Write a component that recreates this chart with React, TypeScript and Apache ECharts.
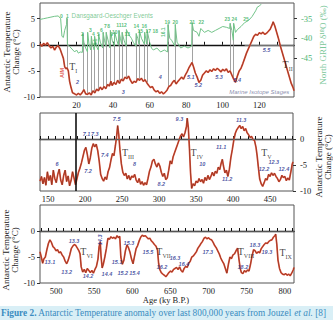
import React, { useEffect, useRef } from 'react';
import * as echarts from 'echarts';

const SERIF = "'Liberation Serif', 'Times New Roman', serif";
const SANS = "'Liberation Sans', Arial, sans-serif";

// ---- Panel 1: 0–139 ky, Antarctic temperature (°C) ----
const tempRecent: [number, number][] = [
  [0, 0.2], [1, -0.3], [2, 0.3], [3, -0.1], [4, 0.4], [5, -0.2], [6, -0.6], [7, -0.3], [8, -1.0], [9, -0.4],
  [10, -0.2], [11, -0.8], [12, -1.8], [12.8, -2.6], [13.5, -4.2], [14.2, -4.6], [14.8, -4.4], [15.5, -5.0],
  [16.2, -7.0], [17, -8.2], [17.8, -9.2], [19, -9.4], [20, -9.6], [21, -9.3], [22, -9.6], [23, -9.2], [24, -8.6],
  [25, -9.4], [26, -9.5], [27, -9.2], [28, -9.6], [29, -8.8], [30, -9.2], [31, -8.5], [32, -8.8], [33, -8.1],
  [34, -8.6], [35, -8.0], [36, -8.4], [37, -7.6], [38, -7.9], [38.8, -7.0], [39.5, -7.8], [40.5, -7.2],
  [41.5, -7.6], [42.5, -6.8], [43.5, -7.4], [44.5, -6.6], [45.5, -6.9], [46.5, -6.2], [47.5, -6.5], [48.5, -6.0],
  [49.5, -6.8], [50.5, -7.4], [51.5, -7.0], [52.5, -7.2], [53.5, -6.5], [54.5, -6.8], [55.5, -6.4], [56.5, -7.0],
  [57.5, -6.7], [58.5, -7.3], [59.5, -7.8], [60.5, -8.2], [61.5, -8.0], [62.5, -8.7], [63.5, -9.0], [64.5, -8.8],
  [65.5, -9.3], [66.5, -9.0], [67.5, -9.4], [68.5, -9.1], [69.5, -8.7], [70.5, -8.0], [71.5, -7.8], [72.5, -7.2],
  [73.5, -6.8], [74.5, -7.5], [75.5, -7.0], [76.5, -6.6], [77.5, -6.2], [78.5, -6.6], [79.5, -5.8], [80.5, -5.2],
  [81.5, -4.4], [82.5, -3.8], [83.2, -3.4], [84, -4.2], [85, -5.4], [86, -6.2], [87, -7.2], [88, -6.8], [89, -5.8],
  [90, -5.4], [91, -5.0], [92, -5.3], [93, -4.8], [94, -5.1], [95, -4.6], [96, -4.9], [97, -4.5], [98, -4.8],
  [99, -5.2], [100, -4.7], [101, -5.0], [102, -4.6], [103, -5.3], [104, -5.0], [105, -5.8], [106, -6.6],
  [107, -7.2], [108, -6.0], [109, -5.0], [110, -4.5], [111, -3.6], [112, -2.6], [113, -1.6], [114, -0.8],
  [115, 0.0], [116, 0.8], [117, 1.6], [118, 2.0], [119, 1.8], [120, 2.3], [121, 2.1], [122, 2.4], [123, 2.0],
  [124, 2.2], [125, 2.6], [126, 3.0], [127, 3.8], [127.6, 4.4], [128.5, 3.6], [129.5, 2.4], [130.5, 1.2],
  [131.5, -0.2], [132.5, -1.4], [133.5, -2.6], [134.5, -3.8], [135.5, -5.0], [136.5, -6.2], [137.5, -7.4],
  [138.5, -8.2], [139, -8.8],
];

// North GRIP δ18O (‰)
const ngrip: [number, number][] = [
  [0, -35.2], [2, -35], [4, -34.8], [6, -34.6], [8, -34.4], [10, -34.3], [11.3, -35], [12, -39.5], [12.8, -39.8],
  [13.5, -38], [14.5, -36.5], [14.7, -34.8], [15, -41.5], [16, -42], [17, -42.5], [18, -43], [19, -43.5], [20, -43],
  [21, -43.8], [22, -43.5], [23.2, -43.6], [23.4, -38.8], [24, -41], [25, -42.5], [26, -43.5], [26.1, -38.5],
  [26.8, -41.5], [27.8, -43], [28.1, -39.5], [28.8, -41.8], [29.7, -43], [29.9, -39.5], [30.8, -42], [31.9, -43],
  [32.1, -39], [33, -41], [34.3, -42.5], [34.5, -38.5], [35.3, -40.5], [36, -42], [36.2, -38.5], [37.5, -41],
  [38.3, -42.5], [38.5, -38], [39.5, -40.5], [40.7, -42], [40.9, -38.5], [42, -40.5], [42.9, -41.8], [43.1, -38],
  [44, -40], [44.7, -41.5], [44.9, -38.5], [46, -40.5], [47.1, -42], [47.3, -37.8], [48.5, -39], [50, -40],
  [51, -41], [52.4, -42], [52.6, -38.8], [53.5, -40], [54.2, -41.5], [54.4, -38], [55.5, -40], [57.1, -41.5],
  [57.3, -38.5], [58, -40.5], [58.4, -41.5], [58.6, -38], [60, -41], [61, -42.5], [62, -43], [64, -42.5],
  [66, -43.5], [68, -43], [69.8, -43.5], [70, -36.5], [71, -40], [72, -40.5], [73.8, -42], [74, -36.5], [75, -41],
  [77, -42.5], [79, -42], [81, -42.5], [83, -42], [83.2, -36], [84, -38], [86, -38.5], [87, -39.5], [88, -37.5],
  [90, -38.5], [92, -38], [94, -38.5], [96, -38], [98, -37.5], [100, -37], [102, -37.2], [103.8, -37.5],
  [104, -36.2], [105, -38], [105.8, -40.5], [106, -36.2], [107, -38.5], [108, -37.8], [110, -37], [112, -36],
  [114, -35.5], [116, -34.5], [118, -33], [119, -32], [120, -31.8], [121, -31.3],
];

// Dansgaard-Oeschger warming links: age, top (°C scale), bottom (°C)
const doAges = [14.7, 23.4, 26.1, 28.1, 29.9, 32.1, 34.5, 36.2, 38.5, 40.9, 43.1, 44.9, 47.3, 52.6, 54.4, 57.3, 58.6, 70, 74, 83.2, 104, 106];
const doTops = [5.0, 2.15, 2.4, 1.6, 1.6, 2.0, 2.4, 2.4, 2.75, 2.4, 2.75, 2.4, 2.9, 2.15, 2.75, 2.4, 2.75, 3.9, 3.9, 4.25, 4.1, 4.1];
const doBottoms = [-4.6, -8.9, -9.4, -9.4, -9.0, -8.6, -8.3, -8.2, -7.7, -7.3, -7.0, -6.7, -6.4, -7.1, -6.8, -6.9, -7.2, -8.2, -7.0, -3.4, -5.0, -6.6];

// ---- Panel 2: 139–481 ky ----
const tempMiddle: [number, number][] = [
  [139, -8.1], [141, -7.2], [143, -8.6], [145, -7.4], [147, -8.9], [149, -6.3], [151, -8.0], [153, -7.0],
  [155, -8.8], [157, -6.0], [159, -7.6], [161, -8.4], [163, -6.8], [165, -5.8], [167, -7.9], [169, -8.8],
  [171, -7.0], [173, -6.0], [175, -8.2], [177, -7.1], [179, -9.0], [181, -8.0], [183, -6.3], [185, -7.5],
  [187, -8.8], [189, -7.6], [191, -6.4], [193, -5.6], [195, -4.6], [197, -3.4], [199, -2.2], [201, -1.6],
  [203, -3.0], [205, -4.8], [207, -3.6], [209, -1.8], [211, -0.9], [213, -1.5], [215, -1.0], [217, -2.2],
  [219, -4.2], [221, -6.8], [223, -7.6], [225, -8.1], [227, -7.3], [229, -7.8], [231, -6.3], [233, -5.5],
  [235, -4.0], [237, -2.8], [239, -3.2], [241, -1.2], [242.5, 0.4], [244, 2.6], [245.5, 0.8], [247, -2.0],
  [249, -4.8], [251, -6.4], [253, -7.0], [255, -6.6], [257, -7.7], [259, -7.0], [261, -7.9], [263, -7.1],
  [265, -7.4], [267, -6.8], [269, -7.9], [271, -8.4], [273, -7.6], [275, -8.7], [277, -8.2], [279, -8.9],
  [281, -8.4], [283, -8.8], [285, -7.6], [287, -6.2], [289, -5.4], [291, -4.2], [293, -3.9], [295, -4.8],
  [297, -5.4], [299, -4.6], [301, -5.2], [303, -6.4], [305, -7.2], [307, -6.6], [309, -7.8], [311, -7.5],
  [313, -6.0], [315, -4.2], [317, -4.8], [319, -3.4], [321, -2.6], [323, -1.8], [325, -1.0], [327, -0.2],
  [329, 0.6], [331, 1.0], [333, 0.4], [335, 1.2], [337, 2.4], [338, 4.0], [339.5, 2.2], [341, -1.8],
  [342.5, -6.5], [344, -9.5], [346, -8.6], [348, -9.0], [350, -8.1], [352, -8.4], [354, -7.6], [356, -8.2],
  [358, -7.8], [360, -8.5], [362, -7.4], [364, -8.0], [366, -7.0], [368, -7.8], [370, -7.2], [372, -6.4],
  [374, -7.1], [376, -6.2], [378, -6.6], [380, -5.4], [382, -5.9], [384, -4.6], [385.5, -3.9], [387, -5.2],
  [389, -6.5], [391, -6.0], [393, -7.2], [395, -5.8], [397, -3.6], [399, -2.0], [401, -0.2], [403, 1.1],
  [405, 1.8], [407, 2.2], [409, 2.6], [411, 2.0], [413, 2.4], [415, 1.6], [417, 2.0], [419, 1.2], [421, 0.8],
  [423, 0.3], [425, 0.5], [427, -0.1], [429, -0.3], [431, -1.6], [432.5, -3.2], [434, -5.2], [436, -7.7],
  [438, -8.6], [440, -9.1], [442, -8.4], [444, -7.6], [446, -7.9], [448, -6.8], [450, -7.2], [452, -6.5],
  [454, -7.0], [456, -6.6], [458, -7.2], [460, -7.6], [462, -8.2], [464, -7.8], [466, -7.0], [468, -7.4],
  [470, -7.2], [472, -8.0], [474, -7.5], [476, -7.9], [478, -6.4], [480, -4.8], [481, -4.4],
];

// ---- Panel 3: 479–812 ky ----
const tempOld: [number, number][] = [
  [479, -4.0], [481, -5.2], [482.5, -6.2], [484, -5.4], [486, -5.0], [488, -3.6], [490, -2.4], [492, -1.7],
  [494, -2.2], [496, -3.0], [498, -3.3], [500, -3.8], [502, -3.6], [504, -4.2], [506, -4.0], [508, -4.6],
  [510, -5.0], [512, -5.8], [514, -6.3], [516, -5.6], [518, -4.6], [520, -3.4], [522, -2.9], [524, -2.6],
  [526, -2.8], [528, -3.3], [530, -3.8], [531.5, -4.4], [533, -6.9], [535, -7.9], [537, -7.4], [539, -8.0],
  [541, -7.2], [543, -7.6], [545, -8.0], [547, -7.6], [549, -8.1], [551, -7.4], [553, -6.8], [555, -5.4],
  [556.5, -3.0], [558, -2.1], [559, -4.8], [560.5, -7.1], [562, -6.4], [564, -5.0], [566, -3.4], [568, -1.4],
  [570, -1.6], [572, -1.1], [574, -1.4], [576, -1.2], [578, -1.5], [580, -0.9], [582, -1.3], [583.5, -1.0],
  [585, -5.0], [587, -6.4], [589, -5.6], [591, -3.8], [593, -2.7], [595, -3.2], [597, -4.1], [599, -5.4],
  [601, -6.3], [603, -4.8], [605, -3.4], [607, -2.8], [609, -1.9], [611, -1.2], [613, -0.8], [615, -1.0],
  [617, -0.9], [619, -1.2], [621, -1.5], [623, -1.4], [625, -1.9], [627, -2.2], [629, -2.6], [631, -2.9],
  [633, -3.6], [634.5, -6.2], [636, -7.4], [638, -8.0], [640, -8.3], [642, -8.5], [644, -8.8], [646, -8.4],
  [648, -8.0], [650, -7.7], [652, -7.9], [654, -7.4], [656, -7.2], [658, -7.0], [660, -7.4], [662, -6.9],
  [664, -7.6], [666, -7.9], [668, -7.2], [670, -6.8], [672, -7.0], [674, -6.2], [676, -5.8], [678, -5.0],
  [680, -4.8], [682, -4.4], [684, -4.0], [686, -3.3], [688, -2.9], [690, -2.4], [692, -2.0], [694, -1.4],
  [696, -1.2], [698, -1.5], [700, -1.3], [702, -1.6], [704, -1.7], [706, -2.2], [708, -2.8], [710, -3.2],
  [712, -3.8], [714, -4.4], [716, -5.2], [718, -5.8], [720, -6.3], [722, -7.2], [724, -8.1], [726, -6.4],
  [728, -5.0], [730, -5.3], [732, -4.6], [734, -4.4], [736, -3.8], [738, -3.3], [740, -5.6], [741.5, -7.2],
  [743, -8.0], [745, -8.2], [747, -7.6], [749, -7.9], [751, -7.5], [753, -7.7], [755, -6.4], [757, -4.8],
  [759, -3.6], [761, -3.8], [763, -4.3], [765, -4.0], [767, -4.2], [769, -3.4], [771, -3.0], [773, -2.6],
  [775, -2.3], [777, -2.4], [779, -2.0], [781, -1.8], [783, -1.7], [785, -1.2], [787, -0.9], [788, -0.6],
  [789.5, -2.6], [791, -5.6], [793, -7.2], [795, -8.0], [797, -8.3], [799, -8.4], [801, -8.2], [803, -8.5],
  [805, -8.3], [807, -8.6], [809, -8.1], [811, -7.5], [812, -7.0],
];

// tick labels
const xLabels1 = [20, 40, 60, 80, 100, 120];
const xLabels2 = [150, 200, 250, 300, 350, 400, 450];
const xLabels3 = [500, 550, 600, 650, 700, 750, 800];
const tempLabels1 = [-10, -5, 0, 5];
const tempLabels23 = [-10, -5, 0];
const d18oLabels = [-45, -40, -35];

// annotations: [text, age, °C]
const doNumbers: [string, number, number][] = [
  ['0', 11.7, 5.5], ['1', 15.0, 5.5], ['2', 23.2, 2.1], ['3', 27.6, 2.8], ['4', 29.2, 2.1], ['5', 32.0, 2.1],
  ['6', 33.6, 2.8], ['7', 35.8, 3.6], ['8', 37.6, 3.6], ['9', 39.2, 2.0], ['10', 40.9, 2.5], ['11', 43.2, 3.8],
  ['12', 46.0, 3.8], ['13', 47.8, 2.0], ['14', 52.7, 3.6], ['15', 54.9, 2.6], ['16', 57.1, 3.6], ['17', 59.3, 2.6],
  ['18', 63.1, 2.6], ['19', 69.7, 4.4], ['20', 74.0, 4.4], ['21', 83.3, 4.4], ['22', 88.3, 4.4],
  ['23', 102.5, 4.9], ['24', 106.3, 4.9], ['25', 112.8, 4.9],
];
const doRotated: [string, number, number][] = [['4.1', 30.3, 0.5], ['16.1', 67.5, 2.4]];
const misRecent: [string, number, number][] = [
  ['2', 20.5, -7.1], ['3', 45.6, -9.0], ['4', 65.8, -6.2], ['5.1', 82.5, -6.2], ['5.2', 86.6, -7.7],
  ['5.3', 98.0, -6.2], ['5.4', 108.0, -6.8], ['5.5', 124.0, -1.0],
];
const misMiddle: [string, number, number][] = [
  ['6', 162, -4.8], ['7.1', 202, 0.9], ['7.3', 213, 0.9], ['7.2', 204, -6.1], ['7.4', 226.5, -3.0],
  ['7.5', 242.6, 3.8], ['8', 266.9, -4.8], ['8.2', 303, -8.6], ['9.3', 327.4, 3.8], ['10', 358.4, -4.8],
  ['11.1', 384, -1.6], ['11.2', 392, -7.7], ['11.3', 410.9, 3.6], ['12.2', 441.8, -5.7], ['12.3', 455, -4.5],
  ['12.4', 468.7, -5.7],
];
const misOld: [string, number, number][] = [
  ['13.1', 492, -5.9], ['13.2', 514, -7.9], ['13.3', 523.6, -1.9], ['14.2', 542, -8.7], ['14.4', 566.8, -8.3],
  ['15.1', 580, -5.9], ['15.2', 587.5, -8.1], ['15.4', 603, -8.1], ['15.3', 595.6, -2.3], ['15.5', 620.5, -4.0],
  ['16.2', 638.9, -6.9], ['16.3', 656, -5.2], ['16.4', 667.7, -6.3], ['17.3', 699, -4.0], ['18.2', 745, -6.9],
  ['18.3', 760.8, -2.7], ['19.3', 776.5, -4.1],
];
const misOldRotated: [string, number, number][] = [['14.3', 557.6, -1.7]];
const terminations1: [string, number, number][] = [['I', 18.2, -4.4], ['II', 135.5, -4.0]];
const terminations2: [string, number, number][] = [['III', 258, -2.8], ['IV', 351, -2.8], ['V', 445, -2.8]];
const terminations3: [string, number, number][] = [['VI', 540, -4.2], ['VII', 641, -4.2], ['VIII', 749, -4.2], ['IX', 801, -4.4]];

const RED = '#e0533a';
const DARK = '#5e2216';
const GREEN = '#72c489';
const BLUE = '#232d8e';

const tickList = (from: number, to: number, step: number) => {
  const out: number[] = [];
  for (let v = from; v <= to; v += step) out.push(v);
  return out;
};

const labelFont = { fontFamily: SERIF, fontSize: 8.5, color: '#222' };

function xAxisFor(gridIndex: number, min: number, max: number, labels: number[], minor: number[]) {
  return {
    type: 'value', gridIndex, min, max,
    axisLine: { show: true, lineStyle: { color: '#111', width: 1.4 } },
    axisTick: { show: true, inside: true, length: 3, customValues: minor, lineStyle: { color: '#111', width: 1 } },
    axisLabel: { ...labelFont, customValues: labels, margin: 3 },
    splitLine: { show: false },
  };
}

function yAxisFor(gridIndex: number, position: string, min: number, max: number, labels: number[], color = '#222') {
  return {
    type: 'value', gridIndex, position, min, max,
    axisLine: { show: false },
    axisTick: { show: true, length: 3, customValues: labels, lineStyle: { color: '#333' } },
    axisLabel: { ...labelFont, color, customValues: labels, margin: position === 'left' ? 5 : 7 },
    splitLine: { show: false },
  };
}

function tempSeries(data: [number, number][], xi: number, yi: number, extra: any = {}) {
  return [
    {
      type: 'line', xAxisIndex: xi, yAxisIndex: yi, data, symbol: 'none', silent: true, z: 3,
      lineStyle: { color: RED, width: 1.7 }, ...extra,
    },
    {
      type: 'line', xAxisIndex: xi, yAxisIndex: yi, data, symbol: 'none', silent: true, z: 4,
      lineStyle: { color: DARK, width: 0.6, opacity: 0.8 },
    },
  ];
}

function annotSeries(items: [string, number, number][], xi: number, yi: number, label: any, fmt?: (t: string) => string) {
  return {
    type: 'scatter', xAxisIndex: xi, yAxisIndex: yi, symbolSize: 1, silent: true, z: 10,
    itemStyle: { color: 'rgba(0,0,0,0)' },
    data: items.map(([t, a, v]) => ({
      value: [a, v],
      label: { show: true, position: 'inside', formatter: fmt ? fmt(t) : t, ...label },
    })),
  };
}

const misStyle = { color: BLUE, fontFamily: SANS, fontSize: 5.5, fontWeight: 'bold', fontStyle: 'italic' };
const doStyle = { color: '#2fae5a', fontFamily: SANS, fontSize: 5, fontWeight: 'bold' };
const termStyle = {
  rich: {
    t: { fontFamily: SERIF, fontSize: 10, color: '#111', padding: [0, 0, 2, 0], verticalAlign: 'bottom' },
    s: { fontFamily: SERIF, fontSize: 6, color: '#111', verticalAlign: 'bottom' },
  },
};
const termFmt = (t: string) => `{t|T}{s|${t}}`;

function buildOption() {
  const doLinks = doAges.map((a, i) => [
    { coord: [a, doTops[i]] },
    { coord: [a, doBottoms[i]] },
  ]);

  const verticalTitle = (text: string, x: number, y: number, color = '#222', size = 9) => ({
    type: 'text', x, y, rotation: Math.PI / 2,
    style: { text, fill: color, font: `${size}px ${SERIF}`, align: 'center', verticalAlign: 'middle' },
    silent: true,
  });

  return {
    animation: false,
    backgroundColor: '#fff',
    grid: [
      { left: 40, top: 3, width: 254, height: 94, show: true, borderColor: '#555', borderWidth: 1 },
      { left: 40, top: 113, width: 253, height: 78, show: true, borderColor: '#555', borderWidth: 1 },
      { left: 40, top: 205, width: 254, height: 78, show: true, borderColor: '#555', borderWidth: 1 },
    ],
    xAxis: [
      xAxisFor(0, 0, 139, xLabels1, tickList(0, 130, 10)),
      xAxisFor(1, 139, 481, xLabels2, tickList(140, 480, 10)),
      xAxisFor(2, 479, 812, xLabels3, tickList(480, 810, 10)),
    ],
    yAxis: [
      yAxisFor(0, 'left', -10, 8, tempLabels1),
      yAxisFor(0, 'right', -55, -31, d18oLabels, '#4fb574'),
      yAxisFor(1, 'right', -10, 5, tempLabels23),
      yAxisFor(2, 'left', -10, 5, tempLabels23),
    ],
    series: [
      {
        type: 'line', xAxisIndex: 0, yAxisIndex: 1, data: ngrip, symbol: 'none', silent: true, z: 2,
        lineStyle: { color: GREEN, width: 1 },
      },
      ...tempSeries(tempRecent, 0, 0, {
        markLine: {
          silent: true, symbol: 'none', label: { show: false }, z: 1,
          lineStyle: { color: '#8a8a8a', width: 0.8, type: 'solid' },
          data: [
            ...doLinks,
            [{ coord: [112, 0] }, { coord: [139, 0] }],
          ],
        },
      }),
      ...tempSeries(tempMiddle, 1, 2, {
        markLine: {
          silent: true, symbol: 'none', label: { show: false },
          lineStyle: { color: '#666', width: 0.8, type: 'solid' },
          data: [
            { yAxis: 0 },
            { xAxis: 187.5, lineStyle: { color: '#111', width: 1.6, type: 'solid' } },
          ],
        },
      }),
      ...tempSeries(tempOld, 2, 3, {
        markLine: {
          silent: true, symbol: 'none', label: { show: false },
          lineStyle: { color: '#666', width: 0.8, type: 'solid' },
          data: [{ yAxis: 0 }],
        },
      }),
      annotSeries(doNumbers, 0, 0, doStyle),
      annotSeries(doRotated, 0, 0, { ...doStyle, rotate: 90 }),
      annotSeries(misRecent, 0, 0, misStyle),
      annotSeries(misMiddle, 1, 2, misStyle),
      annotSeries(misOld, 2, 3, misStyle),
      annotSeries(misOldRotated, 2, 3, { ...misStyle, rotate: 90 }),
      annotSeries(terminations1, 0, 0, termStyle, termFmt),
      annotSeries(terminations2, 1, 2, termStyle, termFmt),
      annotSeries(terminations3, 2, 3, termStyle, termFmt),
      annotSeries([['Dansgaard-Oeschger Events', 39.5, 5.55]], 0, 0, { color: '#5dbb7a', fontFamily: SANS, fontSize: 6.3 }),
      annotSeries([['Marine Isotope Stages', 120, -9.1]], 0, 0, { color: '#6a6f98', fontFamily: SANS, fontSize: 6, fontStyle: 'italic' }),
      annotSeries([['AIM', 12.3, -5.4]], 0, 0, { color: '#d8342a', fontFamily: SANS, fontSize: 5.5, fontWeight: 'bold', rotate: 90 }),
    ],
    graphic: [
      verticalTitle('Antarctic Temperature', 7, 52),
      verticalTitle('Change (°C)', 16, 52),
      verticalTitle('North GRIP δ¹⁸O (‰)', 323, 45, '#7cc79a'),
      verticalTitle('Antarctic Temperature', 319, 157),
      verticalTitle('Change (°C)', 328, 157),
      verticalTitle('Antarctic Temperature', 6, 250),
      verticalTitle('Change (°C)', 15, 250),
      {
        type: 'text', x: 166, y: 300, silent: true,
        style: { text: 'Age (ky B.P.)', fill: '#222', font: `8.5px ${SERIF}`, align: 'center', verticalAlign: 'middle' },
      },
      {
        type: 'rect', silent: true, shape: { x: 0, y: 306, width: 333, height: 14 },
        style: { fill: '#d9eff6' },
      },
      {
        type: 'text', x: 1, y: 313, silent: true,
        style: {
          text: '{b|Figure 2.} Antarctic Temperature anomaly over last 800,000 years from Jouzel {i|et al.} [8]',
          fill: '#3a8cc0', font: `9.3px ${SERIF}`, verticalAlign: 'middle',
          rich: {
            b: { fill: '#3a8cc0', font: `bold 9.3px ${SERIF}` },
            i: { fill: '#3a8cc0', font: `italic 9.3px ${SERIF}` },
          },
        },
      },
    ],
  };
}

export default function App() {
  const ref = useRef<HTMLDivElement>(null);
  useEffect(() => {
    if (!ref.current) return;
    const chart = echarts.init(ref.current, null, { renderer: 'svg' });
    chart.setOption(buildOption() as any);
    return () => chart.dispose();
  }, []);
  return (
    <div
      ref={ref}
      style={{ position: 'absolute', left: 0, top: 0, width: 333, height: 320, background: '#fff' }}
    />
  );
}
